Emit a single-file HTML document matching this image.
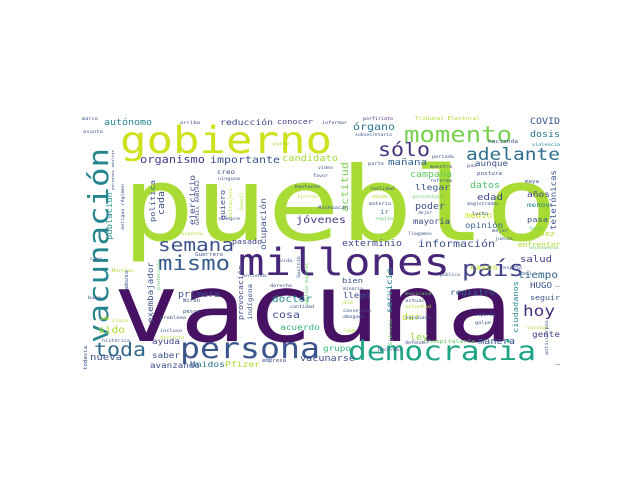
<!DOCTYPE html>
<html><head><meta charset="utf-8"><style>
html,body{margin:0;padding:0;background:#fff;width:640px;height:480px;overflow:hidden}
svg text{font-family:"DejaVu Sans Mono","Liberation Mono",monospace;}
</style></head><body>
<svg id="cloud" width="640" height="480" viewBox="0 0 640 480" xmlns="http://www.w3.org/2000/svg">
<rect width="640" height="480" fill="#fff"/>
<g id="words"></g>
</svg>
<script>
// text, x, baseline y, length, color, vertical
const words = [
["pueblo",122,240,436,"#a8db34",0],
["vacuna",113,341,400,"#471164",0],
["gobierno",120,153,212,"#cde11d",0],
["millones",238,275,212,"#482677",0],
["vacunación",108,343,195,"#25848e",1],
["persona",180,358,140,"#3a548c",0],
["democracia",348,360,188,"#20a486",0],
["momento",404,142,108,"#7ad151",0],
["sólo",378,156,52,"#46327e",0],
["adelante",466,160,94,"#2e6f8e",0],
["país",462,276,62,"#414487",0],
["hoy",523,316,32,"#472f7d",0],
["toda",94,356,52,"#31688e",0],
["semana",158,251,76,"#3b528b",0],
["mismo",158,270,72,"#365c8d",0],
["información",418,247,77,"#3b528b",0],
["exterminio",342,246,60,"#3e4a89",0],
["enfrentar",518,247,42,"#addc30",0],
["salud",520,262,32,"#433e85",0],
["tiempo",518,278,40,"#33638d",0],
["casos",470,270,28,"#b5de2b",0],
["HUGO",530,288,22,"#3b528b",0],
["seguir",530,300,30,"#3b528b",0],
["registro",450,295,45,"#31688e",0],
["bien",342,283,21,"#3b528b",0],
["llegó",343,298,27,"#3b528b",0],
["servicio",392,313,45,"#26828e",1],
["ciudadanos",518,333,52,"#23898e",1],
["dar",402,320,18,"#b5de2b",0],
["ley",410,340,18,"#8fd744",0],
["manera",478,344,37,"#3b528b",0],
["gente",532,337,28,"#414487",0],
["grupo",323,351,28,"#35b779",0],
["vacunarse",300,361,55,"#3b528b",0],
["hospitalaria",428,343,47,"#5ec962",0],
["primera",178,297,42,"#3b528b",0],
["doctor",272,302,40,"#23898e",0],
["cosa",272,318,28,"#3b528b",0],
["acuerdo",280,330,40,"#35b779",0],
["exembajador",153,323,61,"#3b528b",1],
["provocación",243,320,55,"#3e4989",1],
["indígena",252,320,36,"#3b528b",1],
["ayuda",152,344,28,"#414487",0],
["saber",152,358,28,"#3b528b",0],
["nueva",90,360,32,"#3b528b",0],
["avanzando",150,368,50,"#3e4c8a",0],
["Unidos",190,367,35,"#2c728e",0],
["Pfizer",225,367,35,"#addc30",0],
["sido",98,333,27,"#addc30",0],
["INE",100,320,10,"#c8e020",0],
["jóvenes",296,223,50,"#433e85",0],
["ejercicio",195,225,50,"#3e4989",1],
["política",155,222,42,"#3b528b",1],
["cada",164,215,24,"#3e4989",1],
["quiero",225,220,30,"#3e4989",1],
["ocupación",266,250,52,"#3b528b",1],
["población",112,240,48,"#21918c",1],
["actitud",348,212,50,"#7ad151",1],
["ir",380,214,9,"#2c728e",0],
["poder",415,209,30,"#3b528b",0],
["mayoría",413,224,37,"#3e4a89",0],
["llegar",415,190,35,"#39568c",0],
["campaña",410,177,42,"#5ec962",0],
["mañana",388,165,39,"#34618d",0],
["aunque",475,166,33,"#3b528b",0],
["datos",470,188,30,"#4ac16d",0],
["edad",477,200,26,"#3e4989",0],
["medio",465,218,27,"#c8e020",0],
["opinión",465,228,38,"#33638d",0],
["años",527,197,23,"#433e85",0],
["menos",527,207,23,"#26828e",0],
["pasa",527,222,21,"#3b528b",0],
["vez",540,236,15,"#addc30",0],
["telefónicas",556,230,60,"#3b528b",1],
["COVID",530,124,30,"#38588c",0],
["dosis",530,137,30,"#2a788e",0],
["violencia",532,146,28,"#26828e",0],
["órgano",353,130,42,"#2a768e",0],
["pasado",232,244,30,"#414487",0],
["autónomo",104,125,48,"#26828e",0],
["reducción",220,125,53,"#3e4a89",0],
["conocer",277,124,36,"#414487",0],
["organismo",140,163,65,"#433e85",0],
["importante",210,163,70,"#3b528b",0],
["candidato",282,161,56,"#a0da39",0],
["creo",217,174,18,"#3e4c8a",0],
["Tribunal Electoral",415,120,65,"#addc30",0],
["porfiriato",363,120,30,"#482677",0],
["informar",322,124,25,"#3e4989",0],
["arriba",180,124,20,"#3e4989",0],
["marco",82,120,16,"#3b528b",0],
["asunto",83,133,20,"#3b528b",0],
["hacienda",488,143,30,"#3b528b",0],
["subsecretario",355,136,37,"#3b528b",0],
["periodo",432,158,22,"#3b528b",0],
["muestra",430,168,22,"#3b528b",0],
["parte",368,165,16,"#3b528b",0],
["paz",467,167,10,"#3b528b",0],
["postura",477,175,25,"#3b528b",0],
["reforma",430,182,22,"#3b528b",0],
["maya",525,183,14,"#3b528b",0],
["realidad",370,190,24,"#3b528b",0],
["dónde",372,198,16,"#addc30",0],
["porcentaje",413,198,30,"#5ec962",0],
["materia",369,205,22,"#3b528b",0],
["Michoacán",318,209,30,"#3b528b",0],
["magistrados",467,205,32,"#3b528b",0],
["lucha",472,215,16,"#3b528b",0],
["dejar",418,214,14,"#3b528b",0],
["repito",375,220,18,"#5ec962",0],
["llegamos",408,235,24,"#3b528b",0],
["mejor",492,232,16,"#3b528b",0],
["hora",530,230,13,"#5ec962",0],
["jueces",495,240,18,"#3b528b",0],
["puedo",273,145,16,"#addc30",0],
["video",318,169,15,"#3b528b",0],
["favor",313,177,15,"#3b528b",0],
["ninguna",218,180,22,"#3b528b",0],
["bastante",295,188,25,"#3b528b",0],
["tierras",297,198,21,"#addc30",0],
["siempre",218,220,22,"#3b528b",0],
["respecto",178,235,25,"#addc30",0],
["Guerrero",195,256,28,"#3b528b",0],
["vida",280,262,12,"#3b528b",0],
["entiendo",243,277,24,"#3b528b",0],
["derecho",270,287,22,"#3b528b",0],
["cantidad",290,308,24,"#3b528b",0],
["Morelos",112,272,22,"#addc30",0],
["caer",90,260,12,"#3b528b",0],
["buen",88,299,13,"#3b528b",0],
["Wiren",183,302,17,"#3b528b",0],
["pesos",183,313,17,"#3b528b",0],
["problema",160,319,26,"#3b528b",0],
["cinco",112,322,16,"#addc30",0],
["incluso",160,332,22,"#3b528b",0],
["distinta",160,339,24,"#addc30",0],
["histórica",102,342,28,"#3b528b",0],
["empresa",262,362,24,"#3b528b",0],
["minoria",343,290,20,"#3b528b",0],
["dio",343,304,10,"#addc30",0],
["consejero",343,312,28,"#3b528b",0],
["abogado",343,318,22,"#3b528b",0],
["lado",344,332,12,"#addc30",0],
["mexicana",405,295,26,"#5ec962",0],
["actuar",405,302,20,"#3b528b",0],
["voluntad",405,308,26,"#addc30",0],
["vacunada",405,319,26,"#3b528b",0],
["importa",475,316,20,"#3b528b",0],
["golpe",475,324,16,"#3b528b",0],
["vacunar",527,329,22,"#addc30",0],
["Recordar",378,351,24,"#3b528b",0],
["defender",405,344,24,"#3b528b",0],
["pública",440,276,20,"#3b528b",0],
["respeto",500,269,22,"#3b528b",0],
["casi",520,275,12,"#3b528b",0],
["libre",555,287,5,"#3b528b",0],
["cabo",555,365,5,"#3b528b",0],
["delincuencia",530,249,28,"#5ec962",0],
["personas adultas",114,190,40,"#3b528b",1],
["antiguo régimen",124,230,46,"#3b528b",1],
["GATELL RAMÍREZ",199,225,45,"#3b528b",1],
["extranjero",232,218,30,"#addc30",1],
["Gatell",243,210,18,"#addc30",1],
["Sputnik",300,278,22,"#3b528b",1],
["adultas mayores",308,305,42,"#5ec962",1],
["protección",160,290,30,"#5ec962",1],
["abuso",128,290,20,"#3b528b",1],
["Ejército",392,345,26,"#5ec962",1],
["anticuerpos",548,355,35,"#3b528b",1],
["todavía",87,370,24,"#3b528b",1]
];
const SCALE = 0.85;
const g = document.getElementById('words');
const NS = "http://www.w3.org/2000/svg";
words.forEach(function(w){
  const t = document.createElementNS(NS,'text');
  const n = [...w[0]].length;
  const size = SCALE * w[3]/(0.6*n);
  t.textContent = w[0];
  t.setAttribute('font-size', size.toFixed(2));
  t.setAttribute('fill', w[4]);
  t.setAttribute('textLength', w[3]);
  t.setAttribute('lengthAdjust', 'spacingAndGlyphs');
  if (w[5]) {
    t.setAttribute('x', 0);
    t.setAttribute('y', 0);
    t.setAttribute('transform', 'translate(' + w[1] + ',' + w[2] + ') rotate(-90)');
  } else {
    t.setAttribute('x', w[1]);
    t.setAttribute('y', w[2]);
  }
  
  
  g.appendChild(t);
});
</script>
</body></html>
